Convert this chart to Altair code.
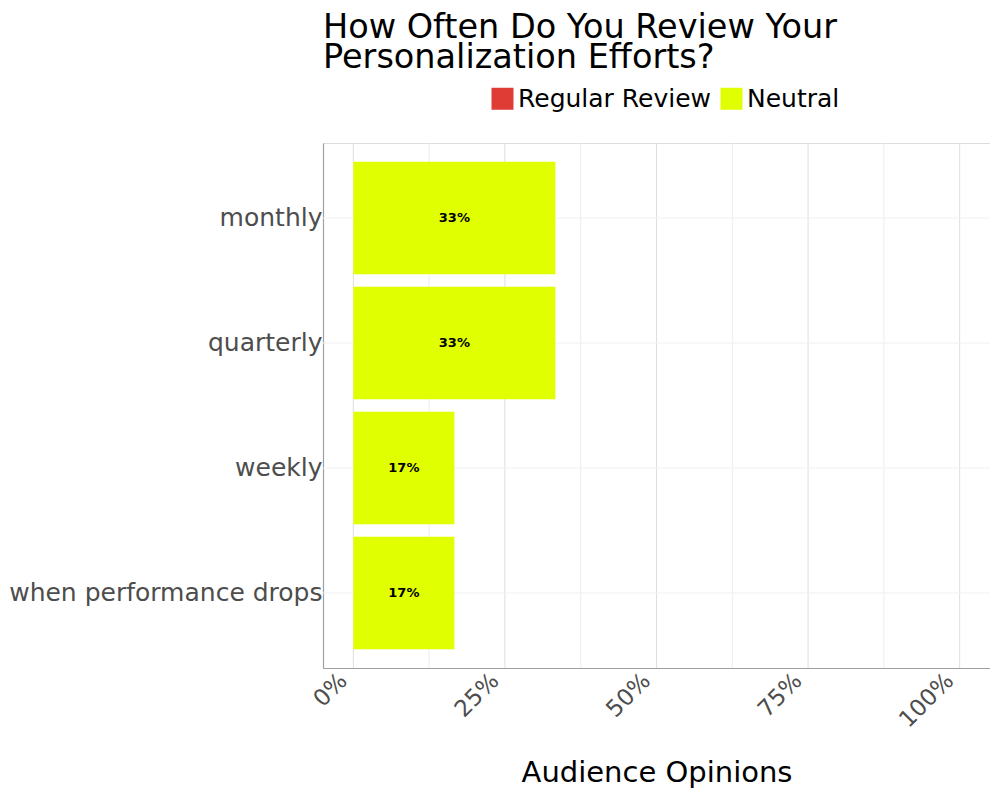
import altair as alt
import pandas as pd

categories = ["monthly", "quarterly", "weekly", "when performance drops"]
values = [33.33, 33.33, 16.67, 16.67]
groups = ["Neutral", "Neutral", "Neutral", "Neutral"]
legend_domain = ["Regular Review", "Neutral"]
legend_colors = ["#E03C36", "#E0FF00"]
x_ticks = [0, 25, 50, 75, 100]
x_minor = [12.5, 37.5, 62.5, 87.5]

df = pd.DataFrame({"cat": categories, "val": values, "grp": groups})
df["label"] = [f"{round(v)}%" for v in values]

FONT = "DejaVu Sans"
W, H = 667, 525

xscale = alt.Scale(domain=[-5, 105], nice=False, zero=False)
yscale = alt.Scale(domain=categories, paddingInner=0.1, paddingOuter=0.15)

xaxis = alt.Axis(values=x_ticks, labelExpr="datum.value + '%'", labelAngle=315,
                 labelAlign="right", labelBaseline="top", labelFont=FONT,
                 labelFontSize=23, labelColor="#4d4d4d", ticks=False,
                 labelPadding=1, labelOffset=-18, grid=False, domainColor="#a0a0a0",
                 domainWidth=1.2, titleFont=FONT, titleFontSize=29, titleFontWeight="normal",
                 titleColor="black", titleBaseline="alphabetic", titleY=113,
                 titleX=W / 2, title="Audience Opinions")
yaxis = alt.Axis(labelFont=FONT, labelFontSize=25, labelColor="#4d4d4d",
                 ticks=False, labelPadding=1, domainColor="#a0a0a0",
                 domainWidth=1.2, grid=False, title=None, labelLimit=400)

major = alt.Chart(pd.DataFrame({"v": x_ticks})).mark_rule(color="#dedede", strokeWidth=1).encode(
    x=alt.X("v:Q", scale=xscale, axis=xaxis, title="Audience Opinions")
)
minor = alt.Chart(pd.DataFrame({"v": x_minor})).mark_rule(color="#ececec", strokeWidth=1).encode(
    x=alt.X("v:Q", scale=xscale, axis=xaxis, title="Audience Opinions")
)
hgrid = alt.Chart(pd.DataFrame({"c": categories})).mark_rule(color="#f0f0f0", strokeWidth=1).encode(
    y=alt.Y("c:N", scale=yscale, axis=yaxis, sort=categories, title=None),
    x=alt.value(0), x2=alt.value(W),
)

bars = alt.Chart(df).mark_bar().encode(
    y=alt.Y("cat:N", scale=yscale, sort=categories, title=None, axis=yaxis),
    x=alt.X("val:Q", scale=xscale, title="Audience Opinions", axis=xaxis),
    color=alt.Color("grp:N", scale=alt.Scale(domain=legend_domain, range=legend_colors),
                    title=None,
                    legend=alt.Legend(orient="none", legendX=167, legendY=-57,
                                      direction="horizontal", symbolType="square",
                                      symbolSize=484, symbolStrokeWidth=0, symbolOpacity=1,
                                      labelFont=FONT, labelFontSize=25, labelColor="black",
                                      labelOffset=3, columnPadding=7, padding=0,
                                      labelLimit=400)),
)

text = alt.Chart(df).mark_text(font=FONT, fontSize=13, fontWeight="bold", color="black").encode(
    y=alt.Y("cat:N", scale=yscale, sort=categories, title=None, axis=yaxis),
    x=alt.X("mid:Q", scale=xscale, title="Audience Opinions", axis=xaxis),
    text="label:N",
).transform_calculate(mid="datum.val / 2")

chart = alt.layer(minor, major, hgrid, bars, text).properties(
    width=W, height=H,
    title=alt.TitleParams(["How Often Do You Review Your", "Personalization Efforts?"],
                          font=FONT, fontSize=33.5, fontWeight="normal", color="black",
                          anchor="start", frame="group", lineHeight=30, offset=11),
    autosize=alt.AutoSizeParams(type="none"),
    padding={"left": 315, "top": 135, "right": 0, "bottom": 120},
).configure_view(strokeWidth=0).configure(background="white")

chart.save("out.html", embed_options={"renderer": "svg", "actions": False})
